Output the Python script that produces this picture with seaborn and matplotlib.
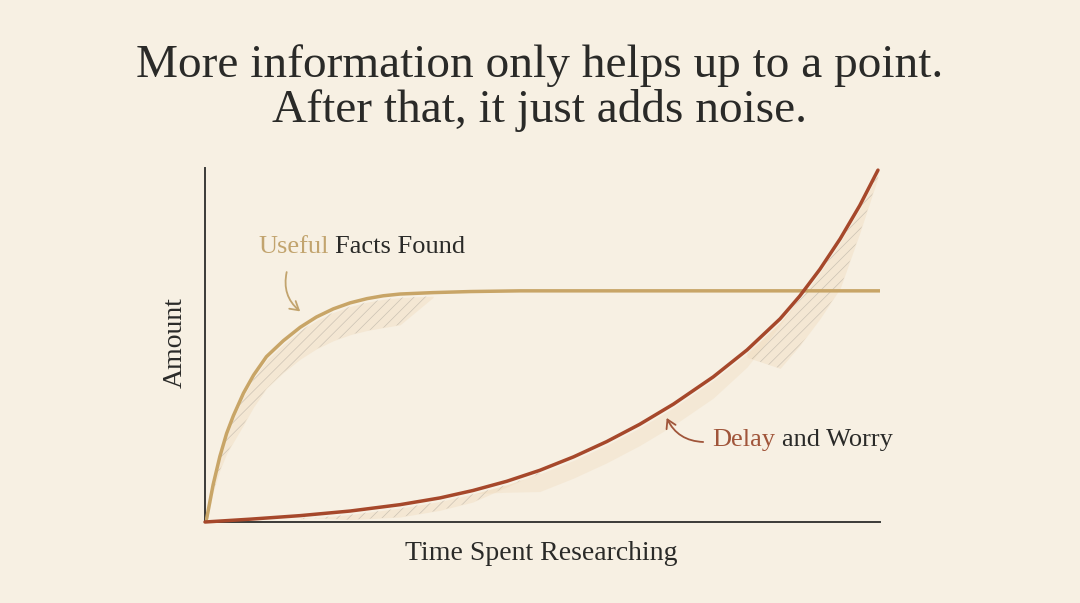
import matplotlib
matplotlib.use("Agg")
import matplotlib.pyplot as plt
import seaborn as sns
import pandas as pd

# --- data (x: 0-100 time, y: 0-100 amount) ---
useful_x = [0, 0.25, 1.2, 2.2, 3.2, 4.2, 5.7, 7.2, 9.1, 11.6, 14.1, 16.5, 19.0,
            21.5, 24.0, 26.4, 28.9, 33.8, 39.3, 46.7, 58.5, 100]
useful_y = [0, 1.0, 10.5, 18.5, 25.0, 30.0, 36.4, 41.5, 46.7, 51.2, 55.0, 57.9, 60.2,
            61.9, 63.1, 63.9, 64.4, 64.8, 65.1, 65.3, 65.3, 65.3]

delay_x = [0, 6.7, 14.1, 21.5, 28.9, 34.8, 39.7, 44.7, 49.6, 54.6, 59.5, 64.4, 69.4,
           75.3, 80.3, 85.2, 88.1, 91.1, 94.1, 97.0, 99.7]
delay_y = [0, 0.8, 1.8, 3.1, 4.9, 6.8, 8.9, 11.5, 14.6, 18.4, 22.7, 27.6, 33.3,
           41.0, 48.6, 57.4, 63.8, 71.4, 80.0, 89.4, 99.4]

title_lines = ["More information only helps up to a point.", "After that, it just adds noise."]
x_label = "Time Spent Researching"
y_label = "Amount"

useful = pd.DataFrame({"time": useful_x, "amount": useful_y})
delay = pd.DataFrame({"time": delay_x, "amount": delay_y})

BG = "#F7F0E3"
GOLD = "#C8A567"
GOLD_TXT = "#C2A46E"
RED = "#A6482B"
RED_TXT = "#A0553A"
INK = "#2A2A28"

sns.set_theme(style="white")
plt.rcParams["font.family"] = ["Liberation Serif", "DejaVu Serif"]
plt.rcParams["hatch.linewidth"] = 0.5

fig = plt.figure(figsize=(10.8, 6.03), dpi=100, facecolor=BG)
ax = fig.add_axes([205 / 1080, 1 - 522 / 603, 675 / 1080, 354 / 603])
ax.set_facecolor(BG)

# soft shading + sketchy hatching under the curves (band tapers at its ends)
def shade(df, lo, hi, depth, hatch=True, alpha=0.35, taper=0.2):
    part = df[(df.time >= lo) & (df.time <= hi)]
    w = (hi - lo) * taper
    fade = ((part.time - lo) / w).clip(upper=1).clip(lower=0.15) * \
           ((hi - part.time) / w).clip(upper=1).clip(lower=0.15)
    top = part.amount - 1.0
    bot = (part.amount - depth * fade).clip(lower=0)
    ax.fill_between(part.time, top, bot, color="#EFD7B6", alpha=alpha, lw=0, zorder=1)
    if hatch:
        ax.fill_between(part.time, top, bot, facecolor="none", edgecolor="#8f8b84",
                        hatch="///", lw=0, alpha=0.4, zorder=1)

shade(useful, 0, 33.8, 9, taper=0.15)
shade(useful, 85.2, 99, 5, taper=0.3)
shade(delay, 14.1, 49.6, 3.5, taper=0.3)
shade(delay, 39.7, 88.1, 6, hatch=False, alpha=0.3)
shade(delay, 80.3, 99.7, 14, taper=0.25)

sns.lineplot(data=useful, x="time", y="amount", ax=ax, color=GOLD, lw=2.5,
             zorder=3, solid_capstyle="round", solid_joinstyle="round")
sns.lineplot(data=delay, x="time", y="amount", ax=ax, color=RED, lw=2.5,
             zorder=4, solid_capstyle="round", solid_joinstyle="round", clip_on=False)

ax.set_xlim(0, 100)
ax.set_ylim(0, 100)
ax.set_xticks([])
ax.set_yticks([])
ax.set_xlabel("")
ax.set_ylabel("")
for side in ["top", "right"]:
    ax.spines[side].set_visible(False)
for side in ["left", "bottom"]:
    ax.spines[side].set_color("#3b3b38")
    ax.spines[side].set_linewidth(1.4)

# labels with two colours
t1 = ax.text(7.85, 77.7, "Useful", color=GOLD_TXT, fontsize=19, va="center", ha="left")
ax.annotate("Facts Found", xy=(1, 0.5), xycoords=t1, xytext=(5, 0),
            textcoords="offset points", color=INK, fontsize=19, va="center", ha="left")
t2 = ax.text(75.1, 23.2, "Delay", color=RED_TXT, fontsize=19, va="center", ha="left")
ax.annotate("and Worry", xy=(1, 0.5), xycoords=t2, xytext=(5, 0),
            textcoords="offset points", color=INK, fontsize=19, va="center", ha="left")

# arrows
ax.annotate("", xy=(14.1, 59.5), xytext=(12.1, 70.6),
            arrowprops=dict(arrowstyle="->,head_length=0.5,head_width=0.3", color=GOLD_TXT,
                            lw=1.3, connectionstyle="arc3,rad=0.3", shrinkA=0, shrinkB=0))
ax.annotate("", xy=(68.4, 29.4), xytext=(73.8, 22.6),
            arrowprops=dict(arrowstyle="->,head_length=0.5,head_width=0.3", color=RED_TXT,
                            lw=1.3, connectionstyle="arc3,rad=-0.3", shrinkA=0, shrinkB=0))

# title and axis titles
fig.text(0.5, 1 - 66 / 603, title_lines[0], ha="center", va="center", fontsize=34, color=INK)
fig.text(0.5, 1 - 111 / 603, title_lines[1], ha="center", va="center", fontsize=34, color=INK)
fig.text(175 / 1080, 1 - 343 / 603, y_label, rotation=90, ha="center", va="center",
         fontsize=20, color=INK)
fig.text(541 / 1080, 1 - 553 / 603, x_label, ha="center", va="center", fontsize=20, color=INK)

fig.savefig("out.png", dpi=100, facecolor=BG)
